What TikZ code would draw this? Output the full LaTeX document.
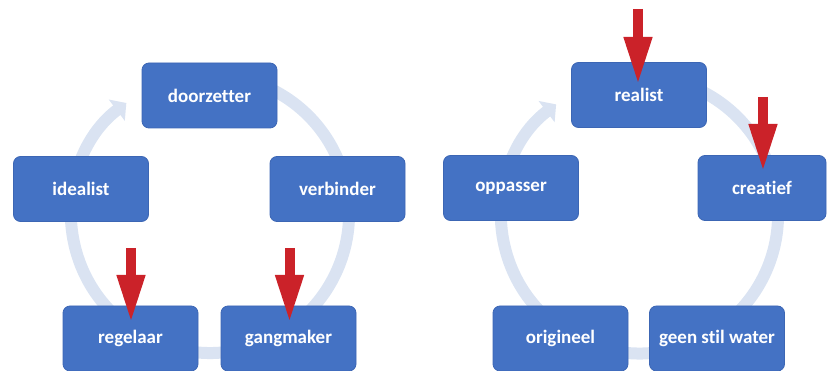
\documentclass[tikz,border=0pt]{standalone}
\usepackage{fontspec}
\setmainfont{Carlito}[Ligatures=NoCommon]
\usetikzlibrary{arrows.meta}
\definecolor{boxblue}{HTML}{4472C4}
\definecolor{boxedge}{HTML}{3C66B4}
\definecolor{ringblue}{HTML}{DAE3F2}
\definecolor{arrowred}{HTML}{CB2229}
\tikzset{
  x=1pt, y=1pt,
  rolebox/.style={fill=boxblue, draw=boxedge, line width=0.8pt, rounded corners=7pt,
    minimum width=135pt, minimum height=65pt, inner sep=0pt,
    text=white, font=\bfseries\fontsize{19}{21}\selectfont},
  ring/.style={draw=ringblue, line width=12pt, -{Triangle[width=26pt,length=12pt]}},
  redarrow/.style={draw=arrowred, line width=10pt, line cap=butt, -{Triangle[width=26pt,length=48pt]}}
}
\begin{document}
\begin{tikzpicture}
\useasboundingbox (0,0) rectangle (828,-371);
\clip (0,0) rectangle (828,-371);
% rings
\draw[ring] (210,-214) ++(110:139) arc[start angle=110, end angle=-233, radius=139];
\draw[ring] (639.5,-215) ++(110:138.5) arc[start angle=110, end angle=-233, radius=138.5];
% left cycle
\node[rolebox] (doorzetter) at (209.5,-95.5) {doorzetter};
\node[rolebox] (idealist) at (81,-189) {idealist};
\node[rolebox] (verbinder) at (337.5,-189) {verbinder};
\node[rolebox] (regelaar) at (130.5,-338.5) {regelaar};
\node[rolebox] (gangmaker) at (288.5,-338.5) {gangmaker};
% right cycle
\node[rolebox] (realist) at (639,-95) {realist};
\node[rolebox] (oppasser) at (511,-188) {oppasser};
\node[rolebox, minimum width=128pt] (creatief) at (762,-188) {creatief};
\node[rolebox] (origineel) at (560.5,-338.5) {origineel};
\node[rolebox] (geen) at (717,-338.5) {geen stil water};
% red arrows
\coordinate (a1s) at (131,-248); \coordinate (a1e) at (131,-323);
\coordinate (a2s) at (289.5,-248); \coordinate (a2e) at (289.5,-323);
\coordinate (a3s) at (638,-9); \coordinate (a3e) at (638,-85);
\coordinate (a4s) at (763,-97); \coordinate (a4e) at (763,-172);
\draw[redarrow] (a1s) -- (a1e);
\draw[redarrow] (a2s) -- (a2e);
\draw[redarrow] (a3s) -- (a3e);
\draw[redarrow] (a4s) -- (a4e);
\end{tikzpicture}
\end{document}
